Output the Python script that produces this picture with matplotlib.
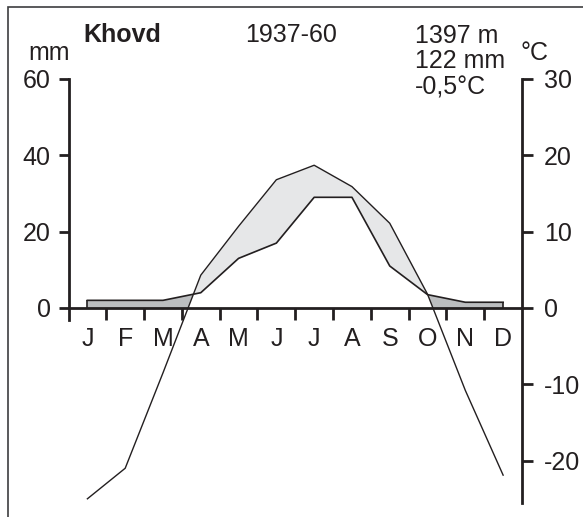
import numpy as np
import matplotlib
matplotlib.use("Agg")
import matplotlib.pyplot as plt
from matplotlib.patches import Rectangle

plt.rcParams['font.family'] = ['Liberation Sans', 'DejaVu Sans']
plt.rcParams['axes.unicode_minus'] = False

# climate data for Khovd, 1937-60
months = ['J', 'F', 'M', 'A', 'M', 'J', 'J', 'A', 'S', 'O', 'N', 'D']
precip = [2, 2, 2, 4, 13, 17, 29, 29, 11, 3.5, 1.5, 1.5]          # mm
temp = [-25, -21, -8.5, 4.3, 10.7, 16.8, 18.7, 15.9, 11.1, 1.8, -10.8, -21.9]  # deg C

mm_ticks = [0, 20, 40, 60]
temp_ticks = [-20, -10, 0, 10, 20, 30]
temp_labels = ['-20', '-10', '0', '10', '20', '30']

station = 'Khovd'
period = '1937-60'
info = ['1397 m', '122 mm', '-0,5°C']

line_col = '#231f20'
light_grey = '#e6e7e8'
dark_grey = '#bcbec0'

fig = plt.figure(figsize=(5.83, 5.17), dpi=100)
ax = fig.add_axes([0.1175, 0.0271, 0.7779, 0.8201])
ax.set_xlim(0, 12)
ax.set_ylim(-51.1, 60)

# month centres, temperature drawn on the mm scale (10 degC = 20 mm)
x = np.arange(len(months)) + 0.5
p = np.array(precip, dtype=float)
t2 = 2 * np.array(temp, dtype=float)

# fine grid for the fills
xf = np.linspace(x[0], x[-1], 2201)
pf = np.interp(xf, x, p)
tf = np.interp(xf, x, t2)

# arid period: temperature above precipitation
ax.fill_between(xf, pf, tf, where=tf >= pf, color=light_grey, lw=0, zorder=1)
# precipitation area where precipitation is above temperature
low = np.minimum(np.maximum(tf, 0), pf)
ax.fill_between(xf, low, pf, where=pf >= tf, color=dark_grey, lw=0, zorder=1)

ax.plot(x, p, color=line_col, lw=1.2, zorder=3)
ax.vlines([x[0], x[-1]], 0, [p[0], p[-1]], color=line_col, lw=1.2, zorder=3)
ax.plot(x, t2, color=line_col, lw=1.0, zorder=3)

# axes styling
for s in ['top', 'right']:
    ax.spines[s].set_visible(False)
ax.spines['bottom'].set_position(('data', 0))
ax.spines['bottom'].set_bounds(0, 12)
ax.spines['left'].set_bounds(-3.1, 60)
for s in ['left', 'bottom']:
    ax.spines[s].set_linewidth(2)
    ax.spines[s].set_color(line_col)

ax.set_yticks(mm_ticks)
ax.tick_params(axis='y', direction='out', length=7.2, width=2, pad=5.5,
               labelsize=18, colors=line_col)
ax.set_xticks(range(1, 12))
ax.set_xticklabels([])
ax.set_xticks(x, minor=True)
ax.set_xticklabels(months, minor=True)
ax.tick_params(axis='x', which='major', direction='out', length=8.6, width=2,
               color=line_col)
ax.tick_params(axis='x', which='minor', length=0, pad=14, labelsize=18,
               labelcolor=line_col)

ax2 = ax.twinx()
ax2.set_ylim(-51.1 / 2, 30)
for s in ['top', 'left', 'bottom']:
    ax2.spines[s].set_visible(False)
ax2.spines['right'].set_bounds(-25.5, 30)
ax2.spines['right'].set_linewidth(2)
ax2.spines['right'].set_color(line_col)
ax2.set_yticks(temp_ticks)
ax2.set_yticklabels(temp_labels)
ax2.tick_params(axis='y', direction='out', length=7.6, width=2, pad=8,
                labelsize=18, colors=line_col)

# header texts
fig.text(83 / 583, 1 - 35 / 517, station, fontsize=18, fontweight='bold',
         va='center', ha='left', color=line_col)
fig.text(245 / 583, 1 - 35 / 517, period, fontsize=18, va='center',
         ha='left', color=line_col)
for i, s in enumerate(info):
    fig.text(415 / 583, 1 - (43 + 25.5 * i) / 517, s, fontsize=18,
             va='baseline', ha='left', color=line_col)
fig.text(28 / 583, 1 - 60 / 517, 'mm', fontsize=18, va='baseline',
         ha='left', color=line_col)
fig.text(520 / 583, 1 - 60 / 517, '°C', fontsize=18, va='baseline',
         ha='left', color=line_col)

# frame around the diagram (right and bottom edges cut off)
fig.add_artist(Rectangle((8 / 583, -0.1), 1.2, 1.1 - 7 / 517,
                         transform=fig.transFigure, fill=False,
                         edgecolor='#3d3d3f', lw=1.2))

fig.savefig('out.png', dpi=100)
